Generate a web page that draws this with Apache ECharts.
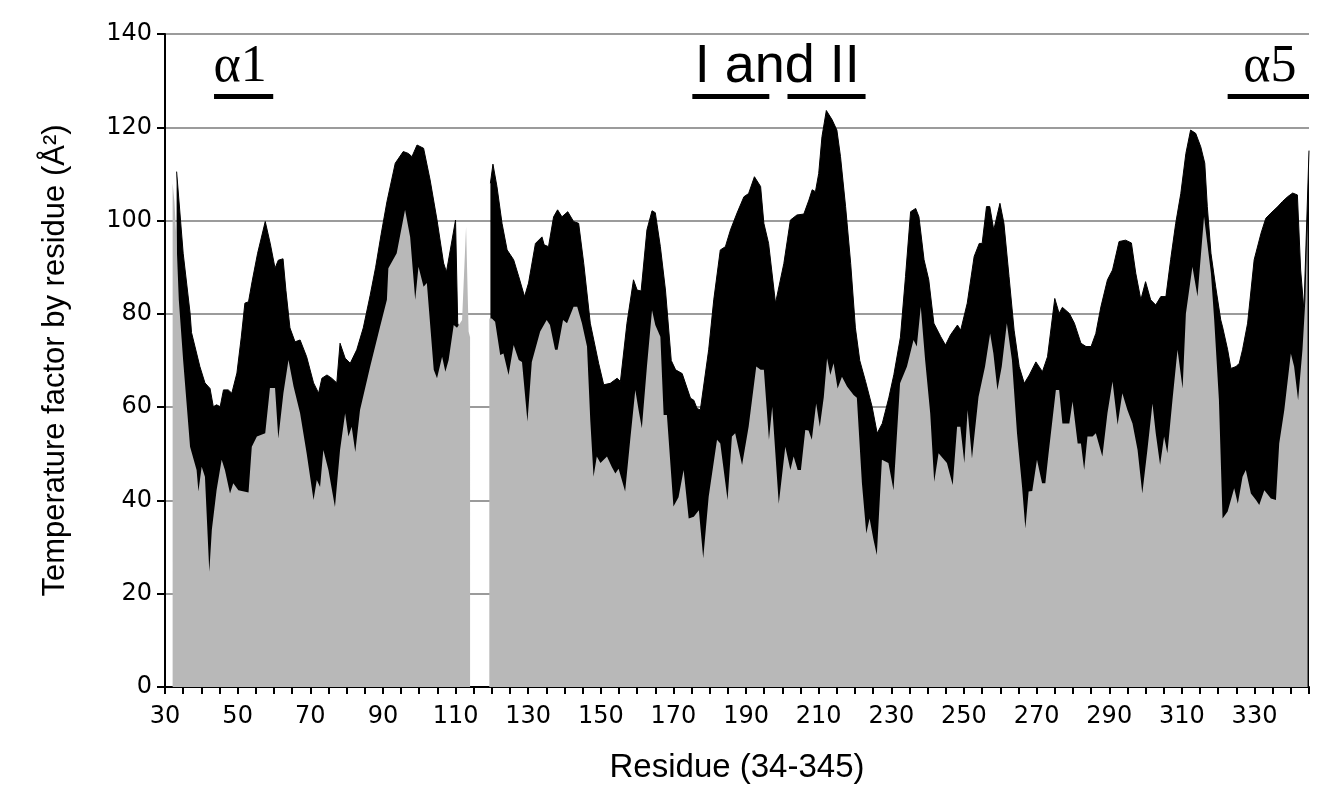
<!DOCTYPE html>
<html>
<head>
<meta charset="utf-8">
<script src="https://cdn.jsdelivr.net/npm/echarts@6/dist/echarts.min.js"></script>
<style>
html,body{margin:0;padding:0;background:#fff;}
#chart{width:1338px;height:800px;}
</style>
</head>
<body>
<div id="chart"></div>
<script>
// X axis tick labels (residue numbers)
var xTickLabels = [30, 50, 70, 90, 110, 130, 150, 170, 190, 210, 230, 250, 270, 290, 310, 330];
var yTickLabels = [0, 20, 40, 60, 80, 100, 120, 140];

// Upper (black) temperature-factor profile: residue positions and values (Å²)
var resBlack = [
  33.2, 35, 36.9, 37.3, 39.6, 41, 42.4, 43.3, 44.2, 45.2, 46.1, 47.4, 48.4, 49.8, 51, 52, 53, 54, 55.5, 57.6,
  59, 60.3, 61.2, 62.5, 63.3, 64.4, 65.8, 67.2, 69, 70.9, 72.3, 73.2, 74.6, 75.9, 77.3, 78.2, 79.6, 81, 82.8, 84.6,
  86.5, 88, 89.5, 91.1, 93.4, 95.6, 97, 98, 99.4, 101.2, 103, 104.9, 106.7, 107.5, 110, 110.6, 111,
  116,
  119.6, 120.3, 121.4, 122.8, 124.2, 126, 127.4, 129, 130.1, 132, 133.8, 134.4, 135.6, 137, 138.1, 139.3, 140.9, 142.5, 143.9, 145.3,
  147.1, 149.4, 150.8, 152.6, 154.5, 155.4, 157.2, 159, 160, 161.1, 162.7, 164.1, 165, 166.4, 167.8, 169.4, 170.6, 172.4, 174.7, 175.6,
  176.5, 177.4, 179.7, 181.1, 182.9, 184.3, 185.7, 187.5, 189.4, 190.7, 192.3, 194, 194.9, 196.2, 198.1, 200.4, 202.2, 204, 205.9, 207.3,
  208.2, 209.1, 210, 210.9, 212.1, 213.7, 215, 216, 217.4, 218.8, 220.1, 221.3, 222.9, 224.7, 226.1, 227.5, 229.3, 230.7, 232.5, 233.9,
  235.3, 236.7, 237.6, 239, 240.3, 241.7, 243.6, 244.9, 246.3, 248.2, 249.1, 250.9, 252.8, 254.2, 255, 256.2, 257.1, 258.2, 259.9, 261,
  262.4, 263.8, 265.2, 266.6, 268, 269.8, 271.6, 273, 275, 276.2, 277.1, 279, 280.4, 282.2, 283.6, 285, 286.3, 287.7, 289.5, 290.9,
  292.7, 294.5, 296.1, 297.3, 298.7, 300, 301.4, 302.8, 304.2, 305.6, 306.9, 308.3, 309.7, 311.1, 312.4, 313.8, 315.2, 316.3, 317, 318,
  319.3, 320.7, 321.2, 322.6, 323.5, 324.9, 325.8, 326.7, 328.1, 329.9, 331.8, 333.1, 334.5, 336.4, 337.7, 339.1, 340.5, 341.8, 342.7, 343.6,
  345
];
var bBlack = [
  110.5, 93, 80.2, 76, 68.7, 65.2, 64, 60.1, 60.5, 60.1, 63.7, 63.7, 63, 67.3, 75, 82.3, 82.6, 87, 93, 99.8,
  95, 89.8, 91.5, 91.8, 85, 77, 74, 74.4, 70.8, 65.2, 63, 66.2, 66.9, 66.2, 65.2, 73.7, 70.5, 69.4, 72.3, 77,
  84, 90, 97, 104, 112.3, 114.8, 114.4, 113.7, 116.2, 115.5, 108.7, 100.1, 90.9, 89, 100.1, 78, 77,
  null,
  108, 112.1, 107.3, 99.4, 93.7, 91.6, 88, 83.7, 86.6, 95.1, 96.5, 94.8, 94.4, 100.8, 102.3, 100.8, 101.9, 99.8, 99.4, 90.8,
  78, 69.4, 64.8, 65.1, 66.2, 65.5, 78, 87.3, 85.1, 84.9, 98, 102.1, 101.7, 94.4, 85.1, 70, 68, 67.2, 61.9, 61.5,
  59.7, 59.4, 72.3, 83, 93.7, 94.4, 98, 101.6, 105.1, 105.8, 109.4, 107.3, 99.4, 95.1, 82.3, 90.8, 100.1, 101.2, 101.4, 104.4,
  106.6, 106.2, 110.1, 118, 123.6, 121.6, 119.4, 113.7, 103, 90.8, 77, 70, 65.5, 60.1, 54.4, 56.5, 62, 67, 75, 88,
  101.9, 102.6, 100.8, 91.6, 87.3, 78, 75.1, 73.3, 75.5, 77.6, 76.5, 82.3, 92.3, 95.1, 95.1, 103, 103, 98, 103.7, 99.4,
  88, 76.5, 68.7, 65.1, 66.9, 69.7, 67.6, 70.8, 83.3, 80.1, 81.4, 80.1, 78, 73.7, 73, 73, 75.8, 81.5, 87.3, 89.4,
  95.5, 95.8, 95.2, 88.7, 83, 86.9, 83, 81.9, 83.7, 83.7, 91.6, 99.4, 105.8, 114.4, 119.4, 118.7, 115.8, 112.3, 103, 93,
  85.8, 78.7, 77.2, 72.3, 68.3, 68.7, 69.4, 72.3, 78, 91.6, 97.3, 100.5, 101.6, 103, 104.1, 105.1, 105.9, 105.5, 89.4, 80.8,
  115
];

// Lower (grey) temperature-factor profile
var resGray = [
  32.1, 32.6, 33.2, 33.8, 35, 36.9, 38.7, 39.2, 40.1, 41, 42.2, 42.9, 44.2, 45.6, 46.5, 47.9, 48.8, 50.2, 53, 53.9,
  55.3, 57.6, 58.9, 60.3, 61.2, 62.6, 64, 65.4, 67.2, 69, 70.9, 71.8, 72.7, 73.6, 75, 76.8, 78.2, 79.6, 80.5, 81.4,
  82.4, 83.7, 86.5, 89.2, 91.1, 91.5, 93.8, 96.1, 97.5, 98.9, 99.8, 101.2, 102.1, 104, 104.9, 106.3, 107.2, 108.1, 109.5, 110.4,
  111.8, 112.9, 113.6, 114,
  116,
  119.3, 120, 120.9, 122.3, 123.2, 124.6, 126, 127.4, 128.3, 129.8, 131, 133.3, 135.1, 136, 137.4, 138.1, 139.6, 140.7, 142.5, 143.5,
  144.8, 146.2, 147.1, 148, 148.9, 149.9, 151.7, 153, 154, 154.9, 156.7, 158.1, 159.5, 160.4, 161.3, 162.7, 164.1, 165, 166.4, 167.3,
  168.2, 170, 171.4, 172.8, 174.2, 175.6, 177, 178.2, 179.7, 182, 182.9, 184.9, 186.1, 187, 188.9, 190.7, 192.8, 194, 194.9, 196.3,
  197.2, 199, 200.8, 202.2, 203.1, 204.2, 205.1, 206.3, 207.2, 208.1, 209.3, 210.3, 211.4, 212.3, 213.2, 214.1, 215.2, 216.4, 217.8, 219.6,
  220.5, 221.9, 223.1, 224, 225.1, 226, 227.4, 229.2, 230.6, 232.4, 234.3, 236.1, 237, 238.1, 239.3, 240.7, 241.8, 243, 245.3, 246.9,
  248.1, 249, 250.1, 251, 252.2, 254, 255.8, 257.2, 258.1, 259.2, 260.4, 261.8, 263.2, 264.6, 266, 266.9, 267.8, 268.8, 270.1, 271.5,
  272.4, 273.3, 275.3, 276.2, 277.1, 279, 279.9, 281.3, 282.2, 283.1, 284, 285.4, 286.3, 288.1, 289.5, 290.9, 292.3, 293.6, 295, 296.4,
  297.8, 299.1, 300.5, 301.9, 302.8, 304, 305.1, 306, 307.4, 308.8, 310.2, 311.1, 312.9, 314.3, 316.1, 318, 318.9, 320.2, 321.2, 322.6,
  324.4, 325.4, 326.7, 327.6, 329, 330.4, 331.3, 332.7, 334.5, 335.9, 336.8, 338.2, 340, 340.9, 342, 343.2, 344, 344.6
];
var bGray = [
  108, 104, 95, 83, 70, 51.5, 46.5, 41.9, 47.2, 45.1, 24.7, 33.7, 42.2, 48.7, 46.5, 41.5, 43.7, 42.2, 41.7, 51.5,
  53.7, 54.4, 64.1, 64.1, 53.3, 63, 70.1, 64.4, 58.7, 50.1, 40.1, 44.4, 42.9, 50.8, 46.5, 38.6, 50.8, 58.7, 53.7, 55.8,
  50.4, 59.4, 68.7, 77.2, 83, 89.8, 93, 102.3, 96.5, 83, 90.1, 85.8, 86.6, 68, 66.2, 70.8, 67.6, 70.1, 77.6, 77,
  78.7, 98.7, 76.2, 75,
  null,
  79, 79, 78.3, 71.2, 71.5, 66.9, 73.3, 70.1, 69.7, 56.9, 69.7, 76.2, 78.7, 77.6, 72.3, 72.3, 78.7, 78, 81.5, 81.5,
  78, 73, 57.2, 45.1, 49.4, 48, 49.4, 47.2, 45.8, 46.8, 41.9, 53, 63.7, 59.4, 55.5, 68.7, 80.8, 77.6, 75.1, 58.3,
  58.3, 38.7, 40.7, 46.5, 36.1, 36.5, 37.9, 27.6, 40.8, 53, 52.2, 40.1, 53.7, 54.4, 47.6, 55.8, 68.7, 68, 68, 53,
  60.1, 39.3, 51.5, 46.5, 49.4, 46.5, 46.5, 55.1, 55, 53, 60.8, 55.8, 62.2, 70.5, 66.9, 69.4, 64, 66.5, 64.4, 62.6,
  62, 43.7, 32.9, 36.1, 31.5, 28.3, 48.7, 48, 42.2, 65.1, 68.7, 74.4, 73, 81.5, 70.1, 58.7, 44, 50.1, 48, 43.3,
  55.8, 55.8, 48, 59.4, 49, 62.2, 68.7, 75.8, 71.5, 63.7, 68.7, 78, 70.1, 54.4, 42.9, 34, 41.9, 42, 48.7, 43.7,
  43.7, 50.1, 63.7, 63.7, 56.5, 56.5, 61.2, 52.2, 52.2, 46.5, 53.7, 53.7, 54.4, 49.4, 58.7, 65.5, 56.2, 63, 59.4, 56.5,
  50.8, 41.5, 50.8, 60.8, 54.4, 47.6, 53.7, 50.1, 61.5, 72.3, 64, 80, 90.1, 83.7, 100.8, 88.7, 78.7, 61.5, 36.1, 37.6,
  42.6, 39.3, 45.1, 46.5, 41.5, 40.1, 39, 42.2, 40.4, 40.1, 52.2, 59.4, 71.5, 68.7, 61.5, 72.3, 83, 100
];

// Secondary-structure annotations (residue ranges)
var annoBarStart = [43.5, 175.2, 201.4, 322.6];
var annoBarEnd   = [59.8, 196.4, 222.9, 345];
var annoText     = ['α1', 'I and II', 'α5'];
var annoTextRes  = [50.7, 198.6, 334.2];

function pairs(xs, ys) {
  return xs.map(function (x, i) { return [x, ys[i] == null ? '-' : ys[i]]; });
}

var barLevel = 126.7;
var markLines = annoBarStart.map(function (s, i) {
  return [{ coord: [s, barLevel] }, { coord: [annoBarEnd[i], barLevel] }];
});

var chart = echarts.init(document.getElementById('chart'), null, { renderer: 'canvas' });
var option = {
  animation: false,
  backgroundColor: '#ffffff',
  grid: { left: 165, right: 29, top: 34, bottom: 113, containLabel: false },
  xAxis: {
    type: 'value',
    min: 30, max: 345, interval: 5,
    name: 'Residue (34-345)',
    nameLocation: 'middle',
    nameGap: 64,
    nameTextStyle: { fontFamily: 'Liberation Sans, Arial, sans-serif', fontSize: 33, color: '#000' },
    axisLine: { show: true, onZero: false, lineStyle: { color: '#000', width: 2 } },
    axisTick: { show: true, length: 7, lineStyle: { color: '#000', width: 2 } },
    axisLabel: {
      margin: 18,
      fontFamily: 'DejaVu Sans, Verdana, sans-serif', fontSize: 24, color: '#000',
      formatter: function (v) { return xTickLabels.indexOf(v) >= 0 ? String(v) : ''; }
    },
    splitLine: { show: false }
  },
  yAxis: {
    type: 'value',
    min: 0, max: 140, interval: 20,
    name: 'Temperature factor by residue (Å²)',
    nameLocation: 'middle',
    nameGap: 94,
    nameTextStyle: { fontFamily: 'Liberation Sans, Arial, sans-serif', fontSize: 31, color: '#000' },
    axisLine: { show: true, lineStyle: { color: '#000', width: 2 } },
    axisTick: { show: true, length: 8, lineStyle: { color: '#000', width: 2 } },
    axisLabel: {
      margin: 13,
      fontFamily: 'DejaVu Sans, Verdana, sans-serif', fontSize: 24, color: '#000',
      formatter: function (v) { return yTickLabels.indexOf(v) >= 0 ? String(v) : ''; }
    },
    splitLine: { show: true, lineStyle: { color: '#7a7a7a', width: 1.5 } }
  },
  series: [
    {
      name: 'upper', type: 'line', data: pairs(resBlack, bBlack),
      symbol: 'none', connectNulls: false, z: 2,
      lineStyle: { color: '#000', width: 1 },
      areaStyle: { color: '#000', opacity: 1 },
      markLine: {
        silent: true, symbol: ['none', 'none'], animation: false,
        label: { show: false },
        lineStyle: { color: '#000', width: 5, type: 'solid' },
        emphasis: { disabled: true },
        data: markLines
      }
    },
    {
      name: 'lower', type: 'line', data: pairs(resGray, bGray),
      symbol: 'none', connectNulls: false, z: 3,
      lineStyle: { width: 0, color: '#b8b8b8' },
      areaStyle: { color: '#b8b8b8', opacity: 1 }
    }
  ]
};
chart.setOption(option);

var yText = 132.8;
var graphics = annoText.map(function (t, i) {
  var p = chart.convertToPixel({ gridIndex: 0 }, [annoTextRes[i], yText]);
  var serif = t.indexOf('α') === 0;
  return {
    type: 'text', x: p[0], y: p[1], z: 10,
    style: {
      text: t,
      fill: '#000',
      font: (serif ? '52px "Liberation Serif", "DejaVu Serif", serif' : '54px "Liberation Sans", Arial, sans-serif'),
      textAlign: 'center', textVerticalAlign: 'middle'
    }
  };
});
chart.setOption({ graphic: graphics });
</script>
</body>
</html>
